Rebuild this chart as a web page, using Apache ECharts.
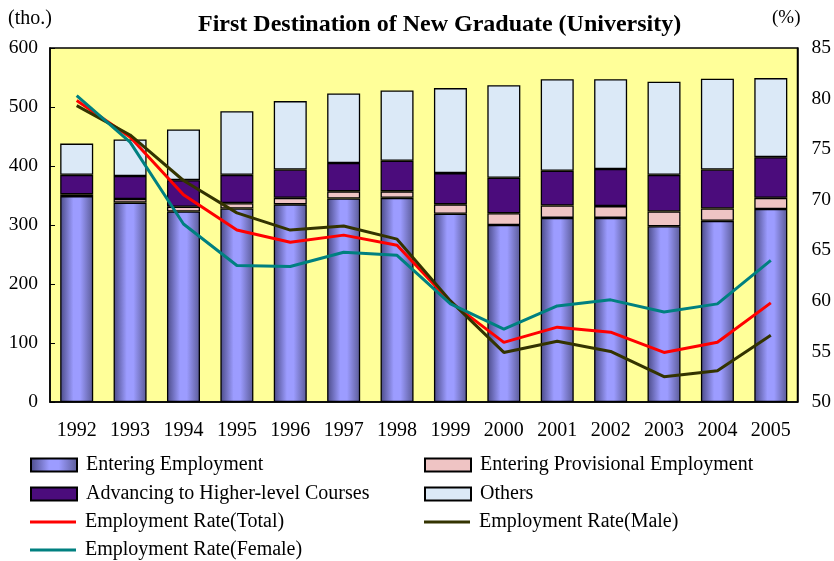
<!DOCTYPE html>
<html><head><meta charset="utf-8">
<script src="https://cdn.jsdelivr.net/npm/echarts@6/dist/echarts.min.js"></script>
<style>html,body{margin:0;padding:0;background:#fff}#c{width:834px;height:561px}</style>
</head><body><div id="c"></div>
<script>
const years = ['1992','1993','1994','1995','1996','1997','1998','1999','2000','2001','2002','2003','2004','2005'];
const entering = [349,338,323,328,335,345,346,319,300,312,312,298,307,327];
const provisional = [3,6,8,9,11,12,11,16,20,21,20,25,21,19];
const advancing = [33,39,45,48,48,48,52,53,60,59,63,62,66,69];
const others = [53,62,86,108,116,118,119,144,157,155,152,158,154,134];
const rateTotal = [79.8,76.2,70.5,67.0,65.8,66.5,65.5,59.9,55.9,57.4,56.9,54.9,55.9,59.8];
const rateMale = [79.3,76.4,71.9,68.7,67.0,67.4,66.1,60.0,54.9,56.0,55.0,52.5,53.1,56.6];
const rateFemale = [80.3,75.7,67.6,63.5,63.4,64.8,64.5,59.7,57.2,59.5,60.1,58.9,59.7,64.0];
const leftTicks = [0,600,100];
const rightTicks = [50,85,5];

const FONT = 'Liberation Serif';
const chart = echarts.init(document.getElementById('c'));
const empGrad = new echarts.graphic.LinearGradient(0,0,1,0,[
  {offset:0,color:'#4a4a86'},{offset:0.4,color:'#9c9cff'},{offset:0.6,color:'#9c9cff'},{offset:1,color:'#5a5a96'}]);
const barBase = {type:'bar', stack:'s', barWidth:33, yAxisIndex:0};
const bs = {borderColor:'#000', borderWidth:1.3};
const lineBase = {type:'line', yAxisIndex:1, symbol:'none', showSymbol:false, z:5};

function leg(name, x, cy, isLine){
  return {left:x, top:cy-10, padding:0, itemWidth:46, itemHeight:isLine?3:13, icon:'rect', itemGap:0,
    textStyle:{fontFamily:FONT, fontSize:20, color:'#000', padding:[0,0,0,4]}, data:[name]};
}
chart.setOption({
  animation:false,
  title:{text:'First Destination of New Graduate (University)', left:193, top:8,
    textStyle:{fontFamily:FONT, fontWeight:'bold', fontSize:24, color:'#000'}},
  graphic:[
    {type:'text', left:8, top:9, style:{text:'(tho.)', font:'20px "Liberation Serif"', fill:'#000'}},
    {type:'text', left:772, top:9, style:{text:'(%)', font:'19px "Liberation Serif"', fill:'#000'}}
  ],
  grid:{left:50, right:36, top:48, bottom:159, show:true, backgroundColor:'#ffff99', borderColor:'#000', borderWidth:1.5},
  legend:[
    leg('Entering Employment', 30, 465, false),
    leg('Entering Provisional Employment', 424, 465, false),
    leg('Advancing to Higher-level Courses', 30, 494, false),
    leg('Others', 424, 494, false),
    leg('Employment Rate(Total)', 30, 522, true),
    leg('Employment Rate(Male)', 424, 522, true),
    leg('Employment Rate(Female)', 30, 550, true)
  ],
  xAxis:{type:'category', data:years, axisTick:{show:false},
    axisLine:{lineStyle:{color:'#000', width:1.5}},
    axisLabel:{fontFamily:FONT, fontSize:20, color:'#000', margin:19}},
  yAxis:[
    {type:'value', min:leftTicks[0], max:leftTicks[1], interval:leftTicks[2], splitLine:{show:false},
     axisLine:{show:true, lineStyle:{color:'#000', width:1.5}}, axisTick:{show:true, inside:true, length:5, lineStyle:{color:'#000'}},
     axisLabel:{fontFamily:FONT, fontSize:19.5, color:'#000', margin:12}},
    {type:'value', min:rightTicks[0], max:rightTicks[1], interval:rightTicks[2], splitLine:{show:false},
     axisLine:{show:true, lineStyle:{color:'#000', width:1.5}}, axisTick:{show:false},
     axisLabel:{fontFamily:FONT, fontSize:19.5, color:'#000', margin:14}}
  ],
  series:[
    Object.assign({}, barBase, {name:'Entering Employment', data:entering, itemStyle:Object.assign({color:empGrad}, bs)}),
    Object.assign({}, barBase, {name:'Entering Provisional Employment', data:provisional, itemStyle:Object.assign({color:'#efc4c4'}, bs)}),
    Object.assign({}, barBase, {name:'Advancing to Higher-level Courses', data:advancing, itemStyle:Object.assign({color:'#4b0c7c'}, bs)}),
    Object.assign({}, barBase, {name:'Others', data:others, itemStyle:Object.assign({color:'#dbe9f7'}, bs)}),
    Object.assign({}, lineBase, {name:'Employment Rate(Total)', data:rateTotal, lineStyle:{color:'#ff0000', width:3}, itemStyle:{color:'#ff0000'}}),
    Object.assign({}, lineBase, {name:'Employment Rate(Male)', data:rateMale, lineStyle:{color:'#333300', width:3}, itemStyle:{color:'#333300'}}),
    Object.assign({}, lineBase, {name:'Employment Rate(Female)', data:rateFemale, lineStyle:{color:'#008080', width:3}, itemStyle:{color:'#008080'}})
  ]
});
</script></body></html>
